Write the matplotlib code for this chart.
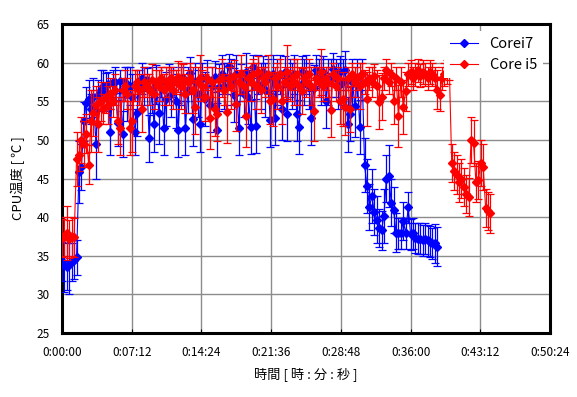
import numpy as np
import matplotlib
matplotlib.use("Agg")
import matplotlib.pyplot as plt
from matplotlib.ticker import FuncFormatter

plt.rcParams["font.family"] = ["Noto Sans CJK JP", "DejaVu Sans"]

# logging interval of the temperature monitor (seconds)
sample_sec = 15

# Core i7 readings (deg C) and error half-widths
i7_temp = [
    34.3, 33.8, 33.6, 34.0, 34.2, 34.5, 34.8, 45.8, 46.5, 52.4, 54.8, 55.3, 54.0,
    55.5, 49.5, 55.8, 56.5, 57.0, 56.2, 57.3, 51.0, 57.5, 57.5, 52.2, 57.6, 50.8,
    57.5, 56.0, 57.0, 55.5, 51.0, 53.5, 57.5, 58.0, 57.0, 57.8, 50.2, 56.5, 52.0,
    57.2, 53.5, 57.5, 51.5, 55.3, 57.8, 56.0, 57.5, 55.0, 51.3, 57.0, 58.0, 51.5,
    56.5, 58.7, 52.7, 57.5, 56.0, 52.0, 58.0, 55.3, 57.8, 54.5, 57.0, 58.2, 51.3,
    56.8, 58.5, 57.0, 58.0, 59.6, 57.5, 55.8, 58.5, 51.5, 57.8, 56.0, 58.8, 55.5,
    51.7, 59.5, 51.8, 58.5, 57.0, 58.8, 56.5, 58.0, 52.6, 58.5, 52.8, 57.5, 58.5,
    54.0, 58.8, 53.4, 58.0, 57.0, 58.5, 53.4, 51.7, 58.8, 57.5, 58.5, 57.0, 52.8,
    56.7, 59.0, 58.0, 57.5, 58.8, 55.1, 57.5, 58.0, 59.2, 58.0, 57.0, 58.8, 57.5,
    59.0, 52.0, 53.4, 57.5, 54.4, 58.0, 51.7, 58.5, 46.7, 44.0, 41.3, 42.8, 40.7,
    39.7, 38.6, 38.3, 40.2, 45.0, 45.3, 41.9, 40.9, 38.0, 37.9, 37.9, 39.5, 37.9,
    41.3, 37.8, 37.9, 37.3, 37.2, 37.2, 37.0, 37.2, 37.0, 36.8, 36.6, 36.6, 36.2,
]
i7_err = [
    2.5, 3.5, 3.0, 4.0, 2.5, 2.5, 2.3, 4.0, 3.0, 2.5, 2.0, 2.5, 2.0,
    2.5, 4.5, 2.0, 2.5, 2.0, 2.5, 1.5, 3.0, 1.5, 2.0, 3.0, 1.5, 3.0,
    2.0, 3.5, 2.5, 3.0, 3.0, 3.0, 1.5, 2.0, 2.5, 1.5, 3.0, 3.0, 3.5,
    2.5, 4.0, 2.0, 3.5, 3.5, 2.0, 3.0, 2.0, 3.5, 3.5, 2.5, 2.0, 3.5,
    3.0, 2.0, 3.5, 2.5, 3.0, 3.5, 2.0, 3.5, 2.5, 3.5, 2.5, 2.0, 3.5,
    3.0, 2.5, 3.0, 2.0, 1.5, 3.0, 3.5, 2.5, 3.5, 2.0, 3.0, 2.5, 3.5,
    3.5, 1.5, 3.5, 2.5, 3.0, 2.0, 3.5, 2.5, 3.5, 2.5, 3.5, 3.0, 2.5,
    4.0, 2.0, 3.5, 2.5, 3.0, 2.5, 3.5, 3.5, 2.0, 3.0, 2.5, 3.0, 3.5,
    3.0, 2.0, 2.5, 3.0, 2.0, 3.5, 3.0, 2.5, 2.0, 2.5, 3.0, 2.0, 3.0,
    2.5, 3.5, 3.5, 3.0, 4.0, 2.5, 3.5, 2.0, 3.5, 3.5, 3.0, 3.5, 3.0,
    3.0, 2.5, 2.5, 3.5, 3.0, 4.0, 3.0, 3.0, 2.5, 2.0, 2.0, 2.5, 2.0,
    2.0, 2.0, 2.0, 2.0, 2.0, 2.0, 2.0, 2.0, 2.0, 2.0, 2.0, 2.5, 2.5,
]

# Core i5 readings (deg C) and error half-widths
i5_temp = [
    37.3, 37.5, 38.0, 37.2, 37.5, 37.4, 47.5, 48.0, 50.0, 49.5, 50.8, 46.8, 52.5,
    53.5, 54.5, 52.0, 55.0, 54.0, 55.5, 54.5, 56.0, 55.0, 56.5, 52.5, 51.5, 56.5,
    57.0, 56.0, 51.5, 52.4, 57.0, 57.5, 56.5, 54.0, 57.5, 57.0, 56.5, 57.8, 56.0,
    57.5, 57.0, 58.0, 56.5, 57.5, 57.0, 58.0, 56.5, 57.5, 58.2, 57.0, 57.8, 56.0,
    57.5, 58.0, 56.5, 54.3, 57.5, 58.0, 57.0, 55.5, 58.0, 52.8, 57.5, 54.0, 53.3,
    57.8, 58.0, 56.5, 53.6, 58.0, 57.0, 58.3, 54.6, 57.5, 58.5, 57.0, 53.1, 58.0,
    57.5, 58.5, 57.0, 58.8, 56.5, 58.0, 57.5, 58.5, 55.0, 55.3, 58.0, 57.0, 58.5,
    55.1, 57.5, 58.8, 57.0, 58.0, 57.5, 58.5, 57.0, 56.3, 58.0, 57.5, 58.5, 57.0,
    53.8, 58.0, 57.5, 58.8, 57.0, 58.0, 57.5, 53.9, 58.5, 57.0, 58.0, 55.0, 55.3,
    54.2, 58.0, 54.0, 58.5, 57.5, 58.0, 57.0, 58.5, 57.5, 55.3, 58.0, 57.5, 58.3,
    57.0, 54.9, 55.6, 58.0, 59.0, 57.5, 58.5, 55.1, 58.0, 53.1, 57.5, 54.3, 56.3,
    58.5, 58.8, 58.0, 58.5, 59.0, 58.3, 58.8, 58.5, 58.0, 58.8, 58.5, 58.0, 56.5,
    55.8, 58.0, 58.5, 58.8, 59.3, 47.0, 46.0, 45.5, 44.5, 45.0, 43.9, 43.0, 42.6,
    50.0, 49.6, 44.5, 44.8, 47.0, 46.5, 41.2, 40.8, 40.5,
]
i5_err = [
    2.5, 2.5, 3.5, 2.5, 2.5, 2.5, 3.5, 2.0, 3.0, 3.0, 2.5, 2.5, 4.0,
    3.0, 2.5, 3.5, 2.5, 2.0, 2.0, 2.5, 2.0, 2.0, 2.0, 3.0, 3.5, 1.5,
    2.0, 2.0, 3.5, 4.0, 2.0, 1.5, 2.0, 3.0, 2.0, 1.5, 2.0, 2.0, 2.0,
    1.5, 2.0, 1.5, 2.0, 2.0, 2.5, 1.5, 2.5, 1.5, 2.0, 3.0, 2.0, 2.5,
    1.5, 2.0, 3.0, 3.5, 2.0, 3.0, 2.0, 3.0, 1.5, 4.0, 2.0, 3.5, 3.5,
    1.5, 2.5, 2.0, 4.0, 1.5, 3.0, 2.0, 3.5, 1.5, 2.5, 2.0, 4.0, 1.5,
    2.5, 2.0, 3.0, 2.0, 3.0, 1.5, 2.0, 2.5, 3.0, 3.5, 1.5, 3.0, 2.0,
    3.0, 2.0, 3.5, 2.0, 1.5, 3.0, 2.0, 2.5, 3.0, 1.5, 2.0, 2.0, 2.5,
    4.0, 1.5, 2.0, 3.0, 2.0, 1.5, 2.0, 3.5, 1.5, 2.0, 1.5, 3.0, 3.5,
    3.5, 1.5, 3.0, 1.5, 2.0, 1.5, 3.0, 1.5, 1.5, 3.5, 1.5, 2.0, 1.5,
    2.0, 3.5, 3.0, 1.5, 1.5, 1.5, 1.5, 3.0, 1.5, 4.0, 2.0, 3.5, 2.5,
    1.5, 1.5, 1.5, 1.5, 1.5, 1.5, 1.5, 1.5, 1.5, 1.5, 1.5, 1.5, 2.5,
    2.0, 1.5, 1.5, 1.5, 1.5, 2.5, 2.5, 2.5, 2.5, 2.5, 2.5, 2.5, 2.5,
    3.0, 3.0, 2.5, 2.5, 3.0, 3.0, 2.5, 2.5, 2.5,
]

x_ticks = [0, 432, 864, 1296, 1728, 2160, 2592, 3024]


def hms(sec, pos=None):
    sec = int(round(sec))
    return "%d:%02d:%02d" % (sec // 3600, (sec % 3600) // 60, sec % 60)


t_i7 = np.arange(len(i7_temp)) * sample_sec
t_i5 = np.arange(len(i5_temp)) * sample_sec

fig = plt.figure(figsize=(5.77, 3.97), dpi=100)
ax = fig.add_axes([0.1075, 0.161, 0.8457, 0.7785])

ax.errorbar(t_i7, i7_temp, yerr=i7_err, fmt="-D", color="#0000FF",
            markersize=4, linewidth=0.8, elinewidth=0.9, capsize=2.6,
            capthick=0.9, label="Corei7", zorder=3)
ax.errorbar(t_i5, i5_temp, yerr=i5_err, fmt="-D", color="#FF0000",
            markersize=4, linewidth=0.8, elinewidth=0.9, capsize=2.6,
            capthick=0.9, label="Core i5", zorder=4)

ax.set_xlim(0, 3024)
ax.set_ylim(25, 65)
ax.set_xticks(x_ticks)
ax.xaxis.set_major_formatter(FuncFormatter(hms))
ax.set_yticks(range(25, 66, 5))
ax.grid(True, color="#8c8c8c", linewidth=1.0)
ax.set_axisbelow(True)

for s in ax.spines.values():
    s.set_linewidth(2.2)
ax.tick_params(axis="x", direction="in", length=3, labelsize=8.5, pad=9)
ax.tick_params(axis="y", length=0, labelsize=8.5, pad=9)

ax.set_xlabel("時間 [ 時 : 分 : 秒 ]", fontsize=9.5, labelpad=6)
ax.set_ylabel("CPU温度 [ ℃ ]", fontsize=9.5, labelpad=8)

# error bars off in the legend handles
handles, labels = ax.get_legend_handles_labels()
handles = [h[0] for h in handles]
leg = ax.legend(handles, labels, loc="upper right", fontsize=10.5,
                frameon=True, fancybox=False, framealpha=1,
                handlelength=1.9, borderaxespad=0.5, labelspacing=0.45)
leg.get_frame().set_edgecolor("none")
leg.set_zorder(10)

fig.savefig("out.png", dpi=100)
